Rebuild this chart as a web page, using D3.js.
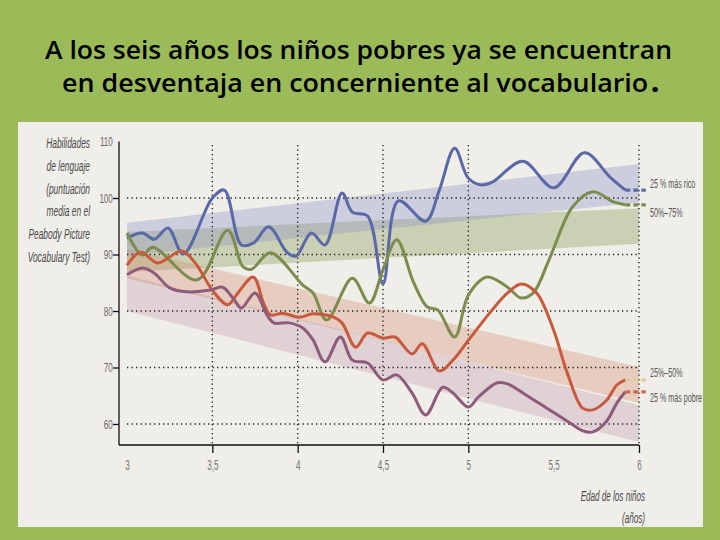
<!DOCTYPE html>
<html>
<head>
<meta charset="utf-8">
<script src="https://cdn.jsdelivr.net/npm/d3@7"></script>
<style>
  html, body { margin: 0; padding: 0; background: #9bbb59; }
  svg { display: block; }
</style>
</head>
<body>
<div id="vis"></div>
<script>
const FRAME_WIDTH = 720;
const FRAME_HEIGHT = 540;

// series: [age, score]
const rico = [[3.00,92.9],[3.09,93.8],[3.16,92.7],[3.24,94.7],[3.33,90.1],[3.50,100.0],[3.57,101.4],
  [3.67,91.7],[3.74,92.0],[3.83,94.9],[3.94,90.3],[3.99,89.7],[4.08,93.8],[4.16,91.7],[4.26,100.9],
  [4.32,97.5],[4.41,96.8],[4.50,84.8],[4.59,99.5],[4.75,95.9],[4.83,101.4],[4.92,108.8],[5.00,103.5],
  [5.08,102.3],[5.14,102.8],[5.32,106.5],[5.50,101.8],[5.68,108.0],[5.83,103.7],[5.92,101.4]];
const medioAlto = [[3.00,93.8],[3.09,89.9],[3.15,91.3],[3.41,85.5],[3.59,94.3],[3.68,87.8],[3.73,87.4],
  [3.84,90.3],[4.03,84.6],[4.09,83.2],[4.17,78.4],[4.32,85.8],[4.42,81.4],[4.50,87.3],[4.58,92.6],
  [4.68,85.0],[4.76,80.7],[4.82,80.2],[4.92,75.4],[5.00,82.8],[5.11,86.0],[5.23,84.2],[5.31,82.3],
  [5.38,83.2],[5.48,89.6],[5.61,98.4],[5.73,101.1],[5.85,99.3],[5.92,98.8]];
const medioBajo = [[3.00,88.1],[3.08,90.4],[3.18,88.5],[3.32,90.6],[3.40,88.5],[3.50,83.7],[3.59,81.1],
  [3.65,83.2],[3.74,86.0],[3.80,81.4],[3.84,79.3],[3.91,79.6],[4.01,78.9],[4.09,79.5],[4.21,78.9],
  [4.26,77.9],[4.34,73.6],[4.41,76.1],[4.50,75.2],[4.57,75.4],[4.67,72.4],[4.73,74.2],[4.83,69.4],
  [4.91,71.3],[5.01,75.2],[5.14,80.2],[5.23,83.2],[5.31,84.8],[5.40,83.2],[5.50,76.6],[5.58,69.0],
  [5.67,62.8],[5.73,62.5],[5.81,64.2],[5.87,66.9],[5.92,67.8]];
const pobre = [[3.00,86.4],[3.09,87.6],[3.16,86.7],[3.25,84.1],[3.35,83.4],[3.49,83.7],[3.56,84.2],
  [3.63,81.9],[3.67,80.5],[3.75,83.2],[3.82,79.3],[3.86,77.9],[3.95,77.9],[4.03,77.0],[4.09,74.9],
  [4.16,71.0],[4.25,75.4],[4.32,71.3],[4.41,70.8],[4.50,67.8],[4.58,68.7],[4.67,65.5],[4.75,61.6],
  [4.85,66.5],[4.91,65.5],[5.00,63.0],[5.06,64.8],[5.17,67.3],[5.23,67.1],[5.34,65.1],[5.46,62.8],
  [5.58,60.5],[5.67,58.8],[5.73,58.6],[5.81,60.5],[5.87,63.7],[5.92,65.7]];

// trend bands: score at age 3 and age 6
const bandAges = [3, 6];
const ricoTop = [95.6, 106.0], ricoBottom = [89.8, 99.2];
const medioAltoTop = [94.0, 98.2], medioAltoBottom = [86.9, 91.9];
const medioBajoTop = [91.0, 70.1], medioBajoBottom = [85.8, 63.7];
const pobreTop = [86.3, 63.3], pobreBottom = [80.0, 56.8];

const xTicks = [3, 3.5, 4, 4.5, 5, 5.5, 6];
const xTickMarks = [3.5, 4, 4.5, 5, 6];
const yTicks = [60, 70, 80, 90, 100, 110];
const yGrid = [60, 70, 80, 90, 100];
const xGrid = [3.5, 4, 4.5, 5, 6];
const seriesNames = ["25 % más rico", "50%–75%", "25%–50%", "25 % más pobre"];
const yTitle = ["Habilidades", "de lenguaje", "(puntuación", "media en el", "Peabody Picture", "Vocabulary Test)"];
const xTitle = ["Edad de los niños", "(años)"];
const dashEndAge = 6.04;

const svg = d3.select("#vis").append("svg")
  .attr("width", FRAME_WIDTH)
  .attr("height", FRAME_HEIGHT);

svg.append("rect").attr("width", FRAME_WIDTH).attr("height", FRAME_HEIGHT).attr("fill", "#9bbb59");

// title
const TITLE_FONT = "'Open Sans', 'Liberation Sans', sans-serif";
svg.append("text").attr("x", 45).attr("y", 59)
  .attr("textLength", 627).attr("lengthAdjust", "spacingAndGlyphs")
  .style("font-family", TITLE_FONT).style("font-size", "26px").style("font-weight", 600)
  .text("A los seis años los niños pobres ya se encuentran");
const t2 = svg.append("text").attr("x", 62).attr("y", 92)
  .attr("textLength", 597).attr("lengthAdjust", "spacingAndGlyphs")
  .style("font-family", TITLE_FONT).style("font-size", "26px").style("font-weight", 600);
t2.append("tspan").text("en desventaja en concerniente al vocabulario");
t2.append("tspan").style("font-weight", 800).attr("dx", 3).text(".");

// panel
svg.append("defs").append("clipPath").attr("id", "panelClip")
  .append("rect").attr("x", 18).attr("y", 122).attr("width", 685).attr("height", 405);
svg.append("rect").attr("x", 18).attr("y", 122).attr("width", 685).attr("height", 405).attr("fill", "#efeee9");

const chart = svg.append("g").attr("clip-path", "url(#panelClip)");

const xScale = d3.scaleLinear().domain([3, 6]).range([127, 639]);
const yScale = d3.scaleLinear().domain([60, 110]).range([424, 141.5]);

// bands
const bandArea = d3.area()
  .x((d) => xScale(d.age))
  .y0((d) => yScale(d.lo))
  .y1((d) => yScale(d.hi));

function bandData(top, bottom) {
  return bandAges.map((a, i) => ({age: a, hi: top[i], lo: bottom[i]}));
}

const bands = [
  {data: bandData(medioAltoTop, medioAltoBottom), color: "rgba(150,168,105,0.42)"},
  {data: bandData(ricoTop, ricoBottom), color: "rgba(140,146,200,0.36)"},
  {data: bandData(medioBajoTop, medioBajoBottom), color: "rgba(215,135,105,0.32)"},
  {data: bandData(pobreTop, pobreBottom), color: "rgba(175,125,150,0.25)"}
];

chart.selectAll(".band")
  .data(bands)
  .enter()
  .append("path")
    .attr("class", "band")
    .attr("d", (d) => bandArea(d.data))
    .attr("fill", (d) => d.color);

// dotted grid
chart.selectAll(".hgrid")
  .data(yGrid)
  .enter()
  .append("line")
    .attr("x1", xScale(3)).attr("x2", xScale(6))
    .attr("y1", (d) => yScale(d)).attr("y2", (d) => yScale(d))
    .attr("stroke", "#222").attr("stroke-width", 1.4).attr("stroke-dasharray", "1.3,3.2");

chart.selectAll(".vgrid")
  .data(xGrid)
  .enter()
  .append("line")
    .attr("x1", (d) => xScale(d)).attr("x2", (d) => xScale(d))
    .attr("y1", 145).attr("y2", 445)
    .attr("stroke", "#222").attr("stroke-width", 1.4).attr("stroke-dasharray", "1.3,3.2");

// axes
const commaFmt = (d) => String(d).replace(".", ",");
const AXIS_FONT = "'Liberation Sans', Arial, sans-serif";

const xMarks = svg.append("g").attr("transform", "translate(0,445)")
  .call(d3.axisBottom(xScale).tickValues(xTickMarks).tickSize(8).tickFormat(""));
xMarks.select(".domain").remove();
xMarks.selectAll("line").attr("stroke", "#111").attr("stroke-width", 1.3);

const xLabels = svg.append("g").attr("transform", "translate(0,445)")
  .call(d3.axisBottom(xScale).tickValues(xTicks).tickSize(0).tickPadding(15).tickFormat(commaFmt));
xLabels.select(".domain").remove();
xLabels.selectAll("text")
  .attr("transform", "scale(0.58,1)")
  .style("font-family", AXIS_FONT).style("font-size", "14px").attr("fill", "#777");

const yAxis = svg.append("g").attr("transform", "translate(119,0)")
  .call(d3.axisLeft(yScale).tickValues(yTicks).tickSize(6).tickPadding(4).tickFormat(commaFmt));
yAxis.select(".domain").remove();
yAxis.selectAll("line").attr("stroke", "#111").attr("stroke-width", 1.3)
  .attr("opacity", (d) => d === 110 ? 0 : 1);
yAxis.selectAll("text")
  .attr("transform", "scale(0.62,1)")
  .style("font-family", AXIS_FONT).style("font-size", "13px").attr("fill", "#666");

// axis frame lines
svg.append("line").attr("x1", 119).attr("x2", 119).attr("y1", yScale(110)).attr("y2", 445)
  .attr("stroke", "#111").attr("stroke-width", 1.3);
svg.append("line").attr("x1", 119).attr("x2", xScale(6)).attr("y1", 445).attr("y2", 445)
  .attr("stroke", "#111").attr("stroke-width", 1.3);

// series lines
const lineGen = d3.line()
  .x((d) => xScale(d[0]))
  .y((d) => yScale(d[1]))
  .curve(d3.curveCatmullRom.alpha(0.5));

const series = [
  {data: rico, color: "#5b68a8", dash: "#5b68a8", label: seriesNames[0], ly: 188},
  {data: medioAlto, color: "#7c8c4d", dash: "#7c8c4d", label: seriesNames[1], ly: 217},
  {data: medioBajo, color: "#c9593c", dash: "#e6c99c", label: seriesNames[2], ly: 377},
  {data: pobre, color: "#8f5b7b", dash: "#cc6a55", label: seriesNames[3], ly: 402}
];

chart.selectAll(".series")
  .data(series)
  .enter()
  .append("path")
    .attr("class", "series")
    .attr("d", (d) => lineGen(d.data))
    .attr("fill", "none")
    .attr("stroke", (d) => d.color)
    .attr("stroke-width", 3)
    .attr("stroke-linejoin", "round");

chart.selectAll(".tail")
  .data(series)
  .enter()
  .append("line")
    .attr("x1", (d) => xScale(d.data[d.data.length - 1][0]))
    .attr("x2", xScale(dashEndAge))
    .attr("y1", (d) => yScale(d.data[d.data.length - 1][1]))
    .attr("y2", (d) => yScale(d.data[d.data.length - 1][1]))
    .attr("stroke", (d) => d.dash)
    .attr("stroke-width", 3.2)
    .attr("stroke-dasharray", "5,3");

// series labels
chart.selectAll(".slabel")
  .data(series)
  .enter()
  .append("text")
    .attr("transform", (d) => "translate(650," + d.ly + ") scale(0.55,1)")
    .style("font-family", AXIS_FONT).style("font-size", "13px").attr("fill", "#555")
    .text((d) => d.label);

// axis titles
svg.selectAll(".ytitle")
  .data(yTitle)
  .enter()
  .append("text")
    .attr("transform", (d, i) => "translate(90," + (148 + i * 22.8) + ") scale(0.56,1)")
    .attr("text-anchor", "end")
    .style("font-family", AXIS_FONT).style("font-size", "15px").style("font-style", "italic")
    .attr("fill", "#4a4a4a")
    .text((d) => d);

svg.selectAll(".xtitle")
  .data(xTitle)
  .enter()
  .append("text")
    .attr("transform", (d, i) => "translate(645," + (501 + i * 22) + ") scale(0.54,1)")
    .attr("text-anchor", "end")
    .style("font-family", AXIS_FONT).style("font-size", "15px").style("font-style", "italic")
    .attr("fill", "#4a4a4a")
    .text((d) => d);
</script>
</body>
</html>
